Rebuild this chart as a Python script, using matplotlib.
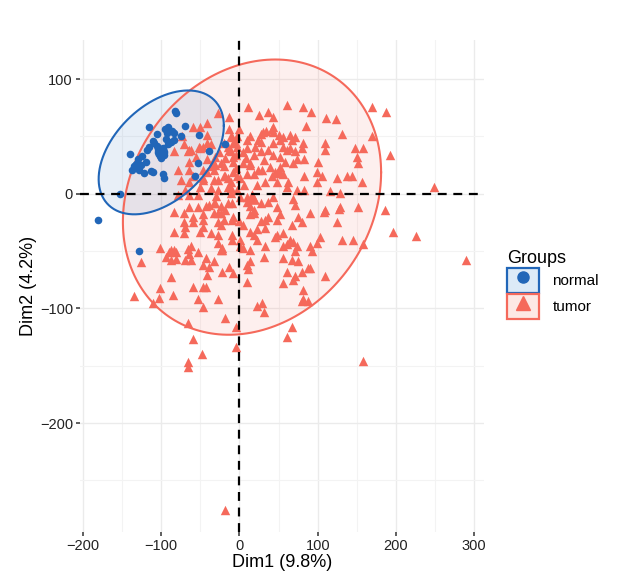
import numpy as np
import matplotlib
matplotlib.use("Agg")
import matplotlib.pyplot as plt
from matplotlib.lines import Line2D
from matplotlib.patches import Patch

plt.rcParams["font.family"] = ["Liberation Sans", "DejaVu Sans"]

# PCA scores (Dim1, Dim2)
normal_pts = [
    (-181, -23), (-153, 0), (-83, 72), (-81, 70), (-116, 58), (-69, 59), (-95, 56), (-92, 58),
    (-90, 55), (-93, 53), (-84, 53), (-84, 47), (-75, 50), (-116, 41), (-109, 44), (-100, 36),
    (-104, 39), (-106, 42), (-92, 43), (-140, 35), (-130, 30), (-124, 33), (-126, 25), (-135, 24),
    (-128, 21), (-138, 21), (-111, 19), (-98, 17), (-97, 14), (-53, 27), (-52, 51), (-18, 43),
    (-39, 37), (-57, 15), (-88, 45), (-128, -50), (-113, 20), (-100, 31), (-96, 34), (-102, 33),
    (-98, 40), (-110, 46), (-120, 28), (-132, 26), (-118, 38), (-86, 55), (-105, 52), (-122, 18),
    (-94, 48),
]

tumor_pts = [
    # upper band
    (11, 76), (61, 77), (81, 76), (92, 71), (169, 76), (187, 71), (111, 66), (123, 65), (85, 59),
    (131, 52), (25, 69), (37, 71), (27, 52), (34, 55), (42, 56), (30, 54), (55, 49), (65, 51),
    (170, 50), (81, 44), (109, 44), (43, 54), (52, 47), (67, 47), (43, 67), (-13, 67), (-28, 70),
    (-60, 58), (-50, 58), (-41, 51), (-73, 50), (-11, 50), (-1, 56), (43, 58), (50, 51), (-71, 43),
    (-37, 43), (-46, 41), (-8, 44), (-15, 41), (10, 47), (-41, 62), (-41, 44), (-52, 41), (-13, 56),
    # right of the origin
    (56, 41), (65, 40), (80, 40), (71, 37), (109, 38), (148, 40), (158, 40), (150, 32), (192, 34),
    (74, 30), (82, 30), (100, 28), (151, 27), (52, 23), (46, 19), (56, 17), (42, 15), (99, 19),
    (106, 15), (82, 15), (125, 14), (137, 15), (144, 15), (156, 10), (62, 10), (61, 6), (99, 10),
    (74, 3), (82, 3), (116, 2), (128, 1), (69, -5), (71, -10), (109, -14), (128, -12), (151, -12),
    (186, -14), (90, -17), (52, -18), (48, -23), (75, -20), (80, -25), (67, -27), (125, -25),
    (196, -33), (55, -34), (46, -38), (69, -42), (103, -38), (99, -43), (131, -40), (145, -40),
    (90, -46), (93, -50), (61, -44), (71, -50), (158, -44),
    # left of the origin
    (-66, 37), (-62, 38), (-65, 28), (-75, 12), (-65, 10), (-69, 3), (-78, -1), (-46, 12),
    (-33, 21), (-53, -1), (-65, -12), (-43, -11), (-31, -8), (-84, -16), (-59, -20), (-47, -23),
    (-69, -29), (-46, -29), (-37, -34), (-27, -17), (-20, -23), (-8, -20), (-1, -24), (-15, -8),
    (-11, 1), (-3, 50), (-3, 41), (-8, 32), (4, 27), (-3, 15), (-11, 10), (-20, 24), (-18, 15),
    (-41, 30), (-34, 28), (-88, -49), (-62, -46), (-53, -51), (-28, -43), (-22, -47),
    # dense core
    (-84, 37), (-65, 38), (-50, 40), (-11, 37), (-5, 34), (10, 40), (18, 34), (27, 37), (36, 38),
    (43, 34), (-78, 21), (-65, 21), (-59, 15), (-46, 21), (-46, 14), (-31, 25), (-15, 14),
    (-27, 12), (-8, 28), (-8, 19), (-11, 5), (8, 31), (14, 25), (10, 17), (18, 17), (29, 21),
    (39, 23), (48, 18), (23, 8), (33, 10), (48, 10), (-28, 3), (-37, 5), (-50, 6), (-65, -1),
    (-71, -17), (-53, -12), (-39, -10), (-33, -17), (-46, -18), (-24, -17), (-18, -14), (1, -3),
    (10, -7), (14, -11), (18, -14), (27, -8), (36, -7), (43, -3), (48, -12), (-71, -25),
    (-60, -25), (-28, -25), (-24, -27), (-9, -23), (14, -18), (36, -20), (23, -31), (33, -30),
    (-84, -33), (-71, -34), (-50, -33), (-28, -36), (-9, -36), (1, -40), (14, -33), (23, -40),
    (48, -36), (-101, -47), (-84, -49), (-24, -49), (1, -46), (14, -49),
    (33, -46), (18, -36), (4, -47), (5, -27), (27, -24), (18, -17), (-9, -40), (-22, -49),
    (-24, -11), (-33, -8), (-9, -8), (10, -3), (18, -5), (33, -23),
    (-31, 32), (-37, 24), (-24, 27), (-14, 38), (-9, 49), (-5, 44), (-20, 15), (-33, 12),
    (-15, 6), (1, 14), (-3, 3), (14, 50), (20, 41), (27, 45), (43, 44), (52, 32), (61, 38),
    (69, 27), (14, 27), (24, 21), (52, 18), (71, 49),
    (-20, 44), (-26, 36), (5, 36), (31, 29), (-4, 22), (-30, -2), (6, 8), (-41, 19), (24, 47),
    (-18, 31), (58, 28), (-55, 32),
    # lower part
    (-90, -51), (-81, -51), (-94, -55), (-88, -58), (-81, -57), (-126, -60), (-66, -48),
    (-65, -53), (-69, -58), (-62, -58), (-43, -56), (-33, -59), (-46, -62), (-39, -64),
    (-14, -64), (-8, -69), (-22, -68), (-88, -73), (-41, -71), (10, -62), (11, -66), (9, -77),
    (-102, -82), (-59, -81), (-47, -81), (-43, -81), (-135, -89), (-103, -91), (-85, -88),
    (-111, -95), (-53, -92), (-47, -99), (-28, -92), (-18, -108), (-4, -116), (-66, -113),
    (23, -98), (29, -95), (31, -103), (-60, -127), (-48, -140), (-66, -147), (-66, -151),
    (-4, -134), (67, -116), (61, -125), (56, -78), (69, -75), (81, -84), (81, -92), (61, -68),
    (71, -72), (87, -65), (31, -55), (14, -59), (56, -56), (67, -58), (75, -59), (65, -40),
    (56, -46), (74, -46),
    # far points
    (249, 6), (226, -37), (289, -58), (109, -72), (90, -65), (80, -68), (108, -16), (127, -13),
    (87, -94), (80, -94), (158, -146), (-18, -276),
]

group_names = ["normal", "tumor"]
group_colors = ["#2166B8", "#F5695B"]
group_fill = ["#DCEAF7", "#FDE8E4"]

# group means and ellipse shape (sd x, sd y, correlation)
normal_center = (-100, 36)
normal_shape = (80, 54, 0.43)
tumor_center = (16, -3)
tumor_shape = (165, 120, 0.18)

x_ticks = [-200, -100, 0, 100, 200, 300]
y_ticks = [-200, -100, 0, 100]
x_lim = (-204, 312)
y_lim = (-295, 134)


def ellipse_path(center, shape, n=200):
    sx, sy, r = shape
    cov = np.array([[sx ** 2, r * sx * sy], [r * sx * sy, sy ** 2]])
    L = np.linalg.cholesky(cov)
    t = np.linspace(0, 2 * np.pi, n)
    pts = L @ np.vstack([np.cos(t), np.sin(t)])
    return pts[0] + center[0], pts[1] + center[1]


fig = plt.figure(figsize=(6.24, 5.85), dpi=100)
ax = fig.add_axes([0.128, 0.0906, 0.647, 0.841])

# grid like theme_minimal
ax.set_xticks(x_ticks)
ax.set_yticks(y_ticks)
ax.set_xticks([v + 50 for v in x_ticks[:-1]] + [-250], minor=True)
ax.set_yticks([v + 50 for v in y_ticks[:-1]] + [-250], minor=True)
ax.grid(True, which="major", color="#EBEBEB", lw=1.0)
ax.grid(True, which="minor", color="#F3F3F3", lw=0.8)
ax.set_axisbelow(True)
for s in ax.spines.values():
    s.set_visible(False)
ax.tick_params(which="major", length=3, width=1.1, color="#333333",
               labelsize=10.5, labelcolor="#222222", pad=2)
ax.tick_params(which="minor", length=0)

# ellipses
for center, shape, col in [(tumor_center, tumor_shape, group_colors[1]),
                           (normal_center, normal_shape, group_colors[0])]:
    ex, ey = ellipse_path(center, shape)
    ax.fill(ex, ey, color=col, alpha=0.1, lw=0, zorder=1)
    ax.plot(ex, ey, color=col, lw=1.5, zorder=4)

tumor = np.array(tumor_pts)
normal = np.array(normal_pts)
ax.scatter(tumor[:, 0], tumor[:, 1], marker="^", s=46, color=group_colors[1],
           linewidths=0, zorder=3)
ax.scatter(normal[:, 0], normal[:, 1], marker="o", s=30, color=group_colors[0],
           linewidths=0, zorder=5)
# group means, larger markers
ax.scatter([tumor_center[0]], [tumor_center[1]], marker="^", s=110,
           color=group_colors[1], linewidths=0, zorder=3)
ax.scatter([normal_center[0]], [normal_center[1]], marker="o", s=95,
           color=group_colors[0], linewidths=0, zorder=5)

ax.axhline(0, color="black", ls=(0, (4, 3)), lw=1.6, zorder=6)
ax.axvline(0, color="black", ls=(0, (4, 3)), lw=1.6, zorder=6)

ax.set_xlim(*x_lim)
ax.set_ylim(*y_lim)
ax.set_xlabel("Dim1 (9.8%)", fontsize=13, labelpad=1)
ax.set_ylabel("Dim2 (4.2%)", fontsize=13, labelpad=2)

handles = []
for name, col, fill, mk in zip(group_names, group_colors, group_fill, ["o", "^"]):
    box = Patch(facecolor=fill, edgecolor=col, lw=1.6)
    dot = Line2D([], [], ls="", marker=mk, color=col, markersize=10 if mk == "^" else 8)
    handles.append((box, dot))

leg = fig.legend(handles, group_names, title="Groups", loc="upper left",
                 bbox_to_anchor=(0.79, 0.597), frameon=False, fontsize=11,
                 title_fontsize=13, handlelength=2.1, handleheight=2.1,
                 handletextpad=0.9, labelspacing=0.1, alignment="left")

fig.savefig("out.png", dpi=100)
